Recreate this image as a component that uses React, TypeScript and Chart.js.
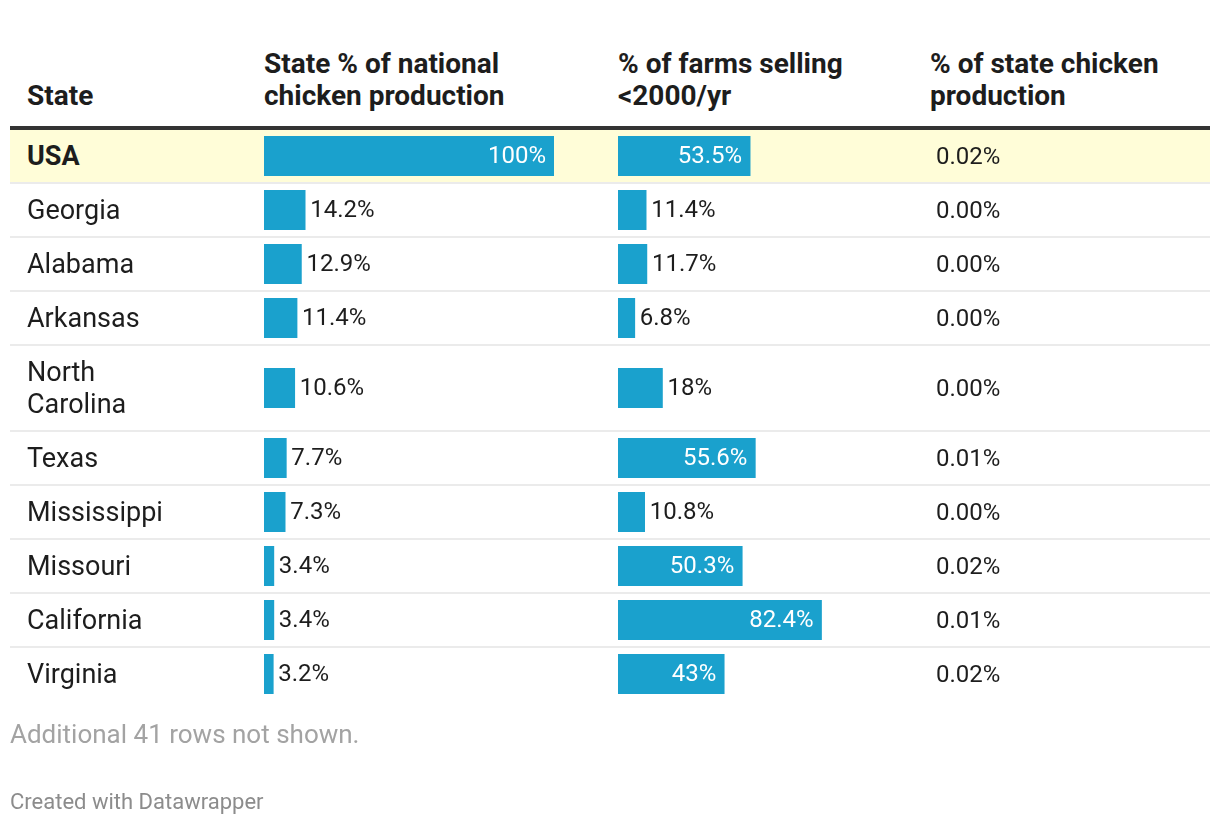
import React, { useEffect, useRef } from "react";
import { Chart, registerables } from "chart.js";

Chart.register(...registerables);

const states = ["USA", "Georgia", "Alabama", "Arkansas", "North Carolina", "Texas", "Mississippi", "Missouri", "California", "Virginia"];
const nationalShare = [100, 14.2, 12.9, 11.4, 10.6, 7.7, 7.3, 3.4, 3.4, 3.2];
const smallFarmShare = [53.5, 11.4, 11.7, 6.8, 18, 55.6, 10.8, 50.3, 82.4, 43];
const stateChickenShare = [0.02, 0.0, 0.0, 0.0, 0.0, 0.01, 0.0, 0.02, 0.01, 0.02];
const headers = ["State", "State % of national chicken production", "% of farms selling <2000/yr", "% of state chicken production"];
const highlightState = "USA";
const notShownNote = "Additional 41 rows not shown.";
const creditText = "Created with Datawrapper";

const FONT = "Roboto, 'Noto Sans', sans-serif";
const BAR_COLOR = "#1aa1cd";
const TEXT_COLOR = "#1d1d1d";
const NUM_FONT_SIZE = 24;

const labelPlugin = {
  id: "barLabel",
  afterDatasetsDraw(chart: any) {
    const ctx = chart.ctx;
    const meta = chart.getDatasetMeta(0);
    const ds = chart.data.datasets[0];
    meta.data.forEach((bar: any, i: number) => {
      const v = ds.data[i] as number;
      const text = `${v}%`;
      ctx.save();
      ctx.font = `400 ${NUM_FONT_SIZE}px ${FONT}`;
      ctx.textBaseline = "middle";
      const tw = ctx.measureText(text).width;
      const w = bar.x - bar.base;
      if (tw + 16 <= w) {
        ctx.fillStyle = "#ffffff";
        ctx.textAlign = "right";
        ctx.fillText(text, bar.x - 8, bar.y + 1);
      } else {
        ctx.fillStyle = TEXT_COLOR;
        ctx.textAlign = "left";
        ctx.fillText(text, bar.x + 5, bar.y + 1);
      }
      ctx.restore();
    });
  },
};

function BarCell({ value, max, width }: { value: number; max: number; width: number }) {
  const ref = useRef<HTMLCanvasElement>(null);
  useEffect(() => {
    const chart = new Chart(ref.current as HTMLCanvasElement, {
      type: "bar",
      data: {
        labels: [""],
        datasets: [
          {
            data: [value],
            backgroundColor: BAR_COLOR,
            barThickness: 40,
            borderWidth: 0,
          },
        ],
      },
      options: {
        indexAxis: "y",
        responsive: false,
        maintainAspectRatio: false,
        animation: false,
        layout: { padding: 0 },
        scales: {
          x: { display: false, min: 0, max },
          y: { display: false },
        },
        plugins: { legend: { display: false }, tooltip: { enabled: false } },
        events: [],
      },
      plugins: [labelPlugin],
    } as any);
    return () => chart.destroy();
  }, [value, max, width]);
  return <canvas ref={ref} width={width} height={40} style={{ display: "block", width, height: 40 }} />;
}

export default function App() {
  const thBase: React.CSSProperties = {
    fontFamily: FONT,
    fontWeight: 700,
    fontSize: 28,
    lineHeight: "32px",
    color: TEXT_COLOR,
    textAlign: "left",
    verticalAlign: "bottom",
    padding: "0 0 14px 0",
    borderBottom: "4px solid #333333",
  };
  const tdBase: React.CSSProperties = {
    fontFamily: FONT,
    fontSize: 27,
    lineHeight: "32px",
    color: TEXT_COLOR,
    verticalAlign: "middle",
    padding: "10px 0",
  };
  const barTd: React.CSSProperties = { ...tdBase, padding: "6px 0" };
  return (
    <div style={{ width: 1200, marginLeft: 2, marginTop: 40, fontFamily: FONT }}>
      <table style={{ width: 1200, borderCollapse: "collapse", tableLayout: "fixed" }}>
        <colgroup>
          <col style={{ width: 254 }} />
          <col style={{ width: 354 }} />
          <col style={{ width: 312 }} />
          <col style={{ width: 280 }} />
        </colgroup>
        <thead>
          <tr>
            <th style={{ ...thBase, paddingLeft: 17 }}>{headers[0]}</th>
            <th style={thBase}><div style={{ maxWidth: 290 }}>{headers[1]}</div></th>
            <th style={thBase}><div style={{ maxWidth: 290 }}>{headers[2]}</div></th>
            <th style={thBase}><div style={{ maxWidth: 275 }}>{headers[3]}</div></th>
          </tr>
        </thead>
        <tbody>
          {states.map((s, i) => {
            const hl = s === highlightState;
            const last = i === states.length - 1;
            const rowStyle: React.CSSProperties = {
              background: hl ? "#fffdd8" : "transparent",
              borderBottom: last ? "none" : "2px solid #ebebeb",
            };
            return (
              <tr key={s} style={rowStyle}>
                <td style={{ ...tdBase, paddingLeft: 17, fontWeight: hl ? 700 : 400 }}>
                  <div style={{ maxWidth: 160 }}>{s}</div>
                </td>
                <td style={barTd}>
                  <BarCell value={nationalShare[i]} max={100} width={290} />
                </td>
                <td style={barTd}>
                  <BarCell value={smallFarmShare[i]} max={100} width={247} />
                </td>
                <td style={{ ...tdBase, fontSize: NUM_FONT_SIZE, paddingLeft: 6 }}>
                  {stateChickenShare[i].toFixed(2)}%
                </td>
              </tr>
            );
          })}
        </tbody>
      </table>
      <div style={{ fontFamily: FONT, fontSize: 26, color: "#a3a3a3", lineHeight: "32px", marginTop: 18 }}>
        {notShownNote}
      </div>
      <div style={{ fontFamily: FONT, fontSize: 22, color: "#8c8c8c", lineHeight: "26px", marginTop: 39 }}>
        {creditText}
      </div>
    </div>
  );
}
